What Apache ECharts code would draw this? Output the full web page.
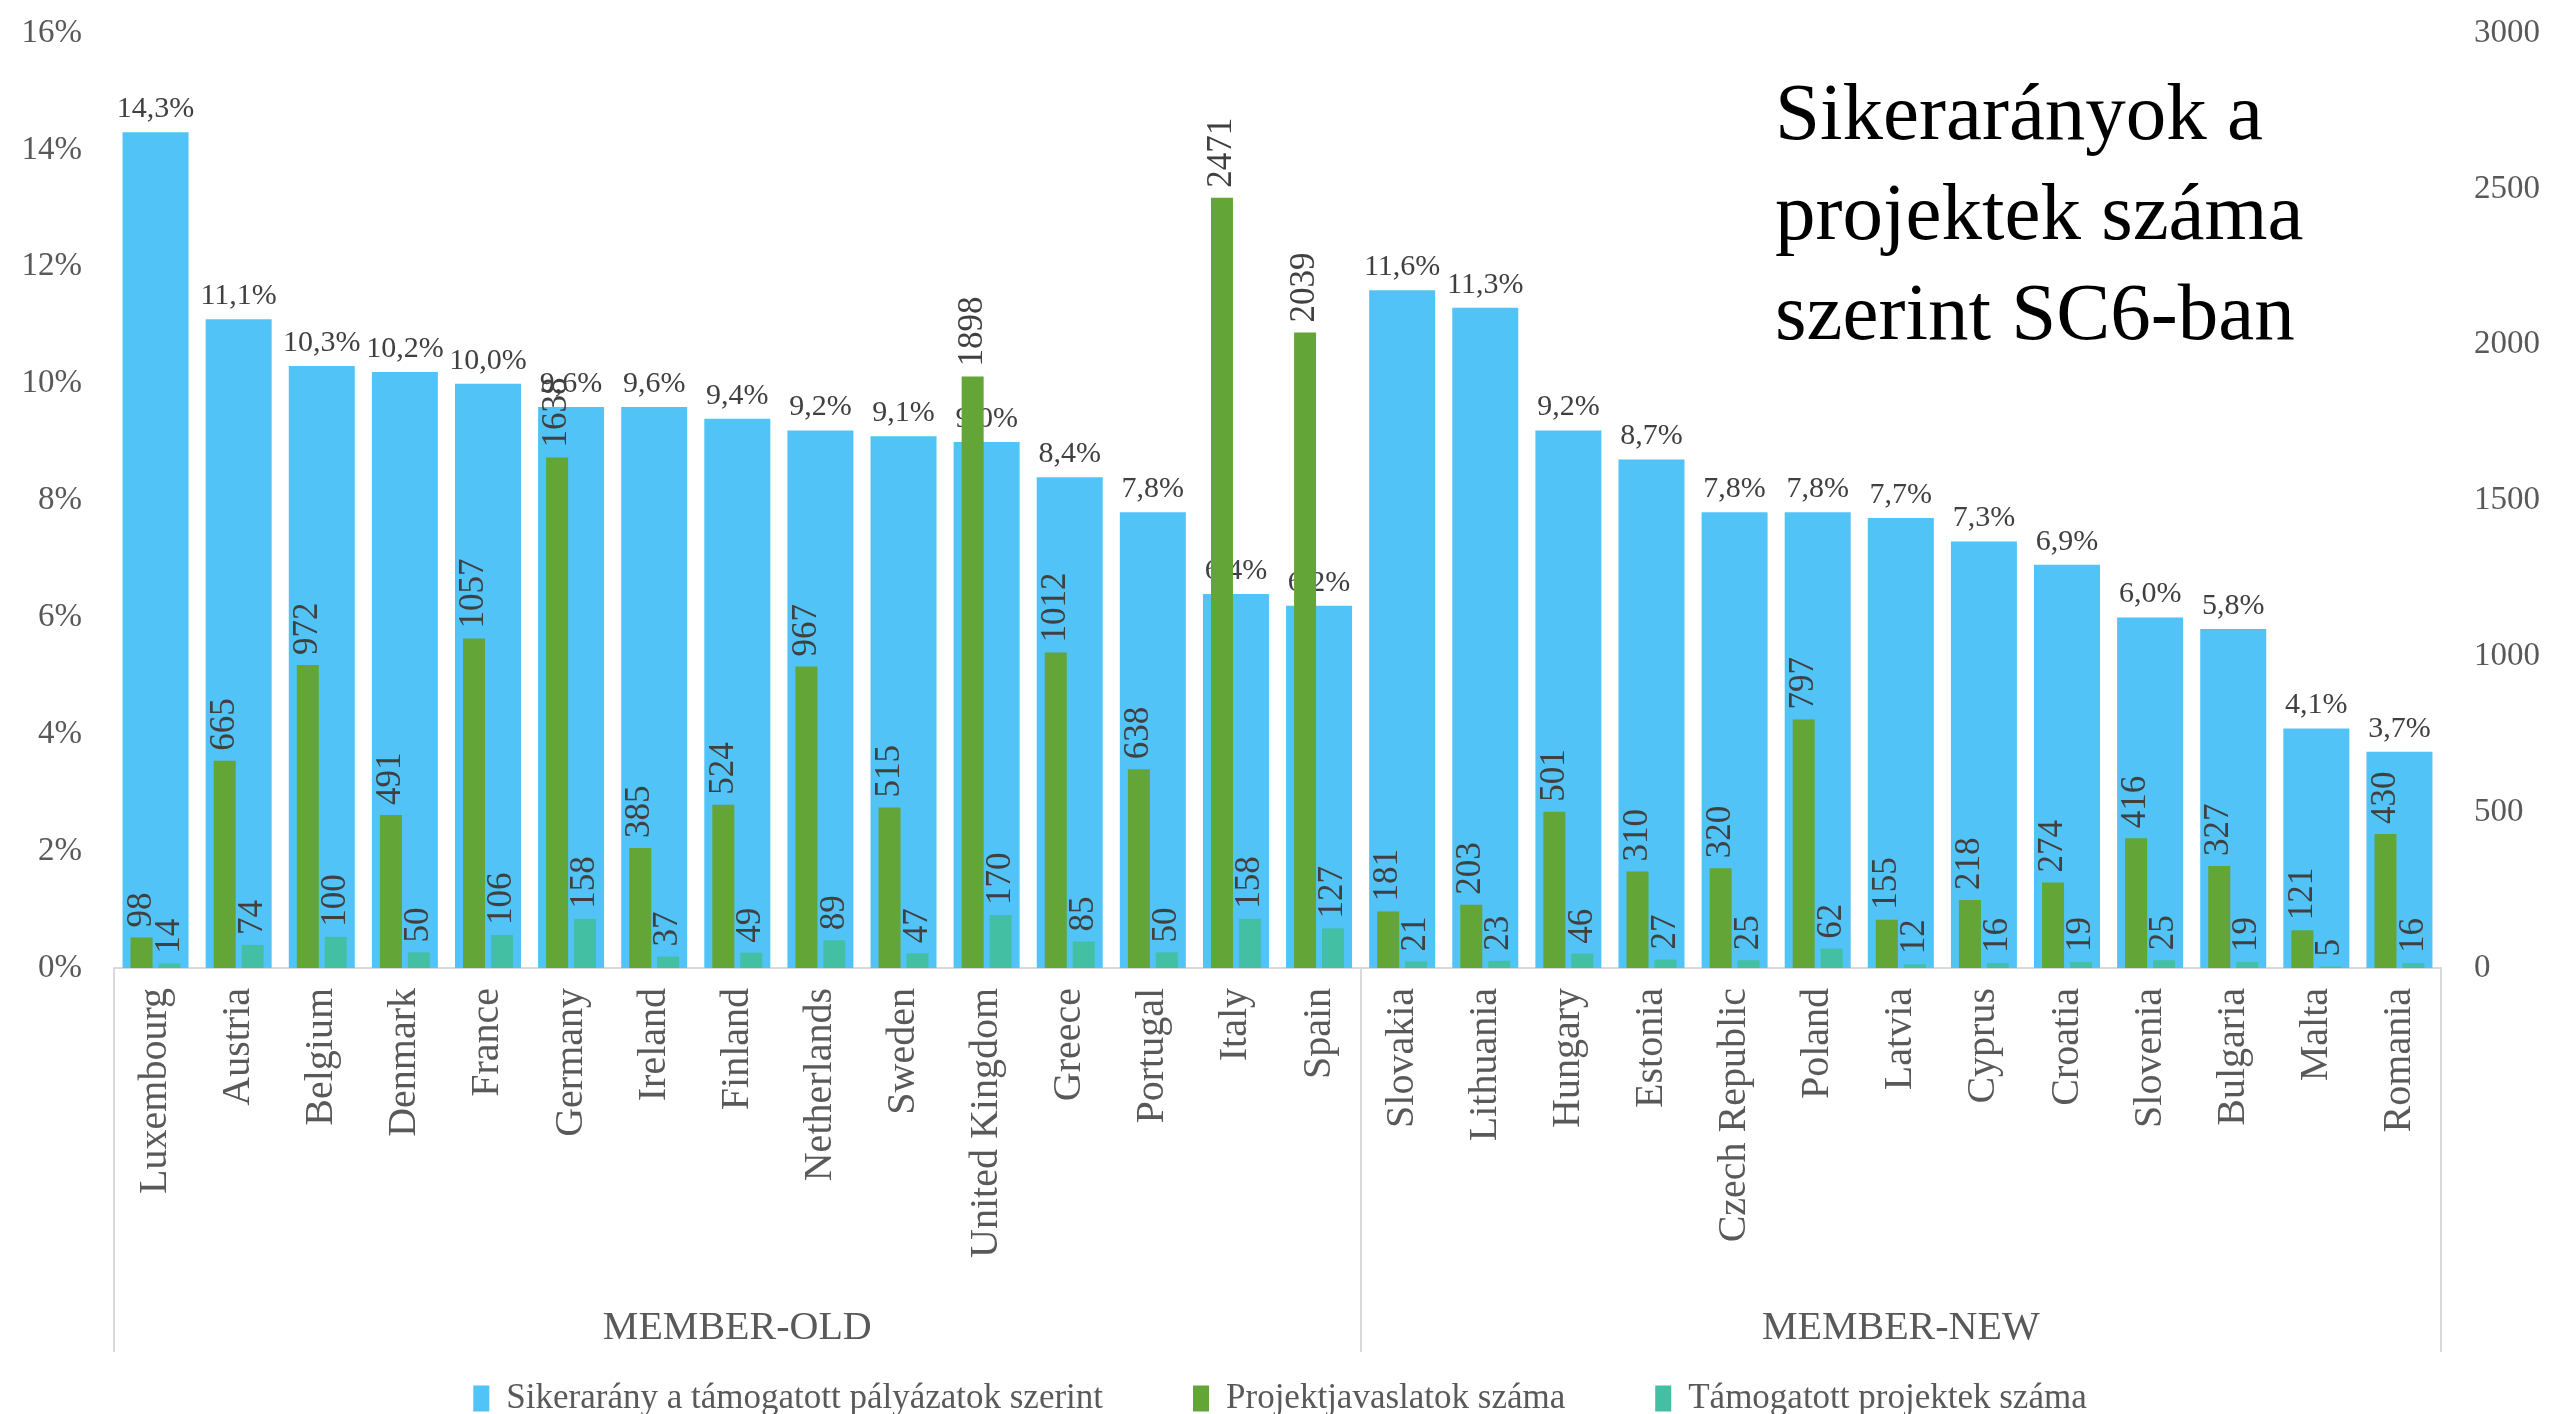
<!DOCTYPE html>
<html>
<head>
<meta charset="utf-8">
<script src="https://cdn.jsdelivr.net/npm/echarts@6/dist/echarts.min.js"></script>
<style>html,body{margin:0;padding:0;background:#fff;}#c{width:2560px;height:1414px;}</style>
</head>
<body>
<div id="c"></div>
<script>
const countries = ['Luxembourg','Austria','Belgium','Denmark','France','Germany','Ireland','Finland','Netherlands','Sweden','United Kingdom','Greece','Portugal','Italy','Spain','Slovakia','Lithuania','Hungary','Estonia','Czech Republic','Poland','Latvia','Cyprus','Croatia','Slovenia','Bulgaria','Malta','Romania'];
const groups = ['MEMBER-OLD','MEMBER-OLD','MEMBER-OLD','MEMBER-OLD','MEMBER-OLD','MEMBER-OLD','MEMBER-OLD','MEMBER-OLD','MEMBER-OLD','MEMBER-OLD','MEMBER-OLD','MEMBER-OLD','MEMBER-OLD','MEMBER-OLD','MEMBER-OLD','MEMBER-NEW','MEMBER-NEW','MEMBER-NEW','MEMBER-NEW','MEMBER-NEW','MEMBER-NEW','MEMBER-NEW','MEMBER-NEW','MEMBER-NEW','MEMBER-NEW','MEMBER-NEW','MEMBER-NEW','MEMBER-NEW'];
const successRate = [14.3,11.1,10.3,10.2,10.0,9.6,9.6,9.4,9.2,9.1,9.0,8.4,7.8,6.4,6.2,11.6,11.3,9.2,8.7,7.8,7.8,7.7,7.3,6.9,6.0,5.8,4.1,3.7];
const proposals = [98,665,972,491,1057,1638,385,524,967,515,1898,1012,638,2471,2039,181,203,501,310,320,797,155,218,274,416,327,121,430];
const funded = [14,74,100,50,106,158,37,49,89,47,170,85,50,158,127,21,23,46,27,25,62,12,16,19,25,19,5,16];
const seriesNames = ['Sikerarány a támogatott pályázatok szerint','Projektjavaslatok száma','Támogatott projektek száma'];
const titleText = 'Sikerarányok a\nprojektek száma\nszerint SC6-ban';

// group boundaries / centers derived from groups array
const groupStart = groups.map((g,i)=> i===0 || groups[i-1]!==g);
const groupCenter = (function(){
  const res = {}; let s = 0;
  for (let i=1;i<=groups.length;i++){
    if (i===groups.length || groups[i]!==groups[s]) { res[Math.floor((s + i - 1)/2)] = true; s = i; }
  }
  return res;
})();

const FONT = '"Liberation Serif", "DejaVu Serif", serif';
const chart = echarts.init(document.getElementById('c'));
const valLabel = {
  show: true, position: 'top', rotate: 90, align: 'left', verticalAlign: 'middle',
  distance: 10, fontFamily: FONT, fontSize: 35, color: '#404040'
};
chart.setOption({
  animation: false,
  textStyle: { fontFamily: FONT },
  title: {
    text: titleText, left: 1775, top: 68, padding: 0,
    textStyle: { fontFamily: FONT, fontSize: 81, lineHeight: 100, fontWeight: 'normal', color: '#000' }
  },
  legend: {
    top: 1376, left: 'center', icon: 'rect', itemWidth: 16, itemHeight: 26, itemGap: 90,
    textStyle: { fontFamily: FONT, fontSize: 35, color: '#595959', padding: [0, 0, 0, 12] },
    data: seriesNames
  },
  grid: { left: 114, right: 119, top: 33, bottom: 446, containLabel: false },
  xAxis: [
    {
      type: 'category', data: countries, position: 'bottom',
      axisLine: { lineStyle: { color: '#d9d9d9', width: 2 } },
      axisTick: { show: false },
      axisLabel: { interval: 0, rotate: 90, margin: 20, fontFamily: FONT, fontSize: 40, color: '#595959' }
    },
    { type: 'category', data: countries, position: 'bottom', show: false },
    {
      type: 'category', data: groups, position: 'bottom',
      axisLine: { show: false },
      axisTick: { show: true, length: 384, interval: (i) => groupStart[i], lineStyle: { color: '#d9d9d9', width: 2 } },
      axisLabel: { interval: (i) => !!groupCenter[i], margin: 340, fontFamily: FONT, fontSize: 40, color: '#595959' }
    }
  ],
  yAxis: [
    {
      type: 'value', min: 0, max: 16, interval: 2, position: 'left',
      splitLine: { show: false }, axisLine: { show: false }, axisTick: { show: false },
      axisLabel: { formatter: v => v + '%', margin: 32, fontFamily: FONT, fontSize: 33, color: '#595959' }
    },
    {
      type: 'value', min: 0, max: 3000, interval: 500, position: 'right',
      splitLine: { show: false }, axisLine: { show: false }, axisTick: { show: false },
      axisLabel: { formatter: v => String(v), margin: 33, fontFamily: FONT, fontSize: 33, color: '#595959' }
    }
  ],
  series: [
    {
      name: seriesNames[0], type: 'bar', xAxisIndex: 0, yAxisIndex: 0, data: successRate,
      barWidth: 66, itemStyle: { color: '#51C3F7' }, z: 1,
      label: { show: true, position: 'top', distance: 8, fontFamily: FONT, fontSize: 30, color: '#404040',
        formatter: p => p.value.toFixed(1).replace('.', ',') + '%' }
    },
    {
      name: seriesNames[1], type: 'bar', xAxisIndex: 1, yAxisIndex: 1, data: proposals,
      barWidth: 22, barGap: '27%', itemStyle: { color: '#63A537' }, z: 3, label: valLabel
    },
    {
      name: seriesNames[2], type: 'bar', xAxisIndex: 1, yAxisIndex: 1, data: funded,
      barWidth: 22, barGap: '27%', itemStyle: { color: '#43C0A3' }, z: 3, label: valLabel
    }
  ]
});
</script>
</body>
</html>
